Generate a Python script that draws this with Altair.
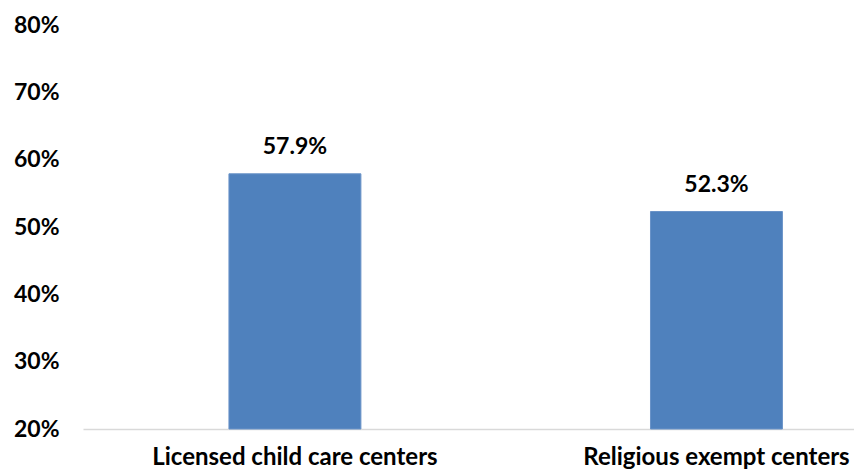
import altair as alt
import pandas as pd

categories = ["Licensed child care centers", "Religious exempt centers"]
values = [0.579, 0.523]
labels = ["57.9%", "52.3%"]
y_ticks = [0.2, 0.3, 0.4, 0.5, 0.6, 0.7, 0.8]

df = pd.DataFrame({"category": categories, "value": values, "label": labels})

FONT = "Lato"

x = alt.X(
    "category:N",
    sort=categories,
    title=None,
    scale=alt.Scale(paddingInner=0.687, paddingOuter=0.258, align=0.671),
    axis=alt.Axis(
        labelAngle=0,
        labelFont=FONT,
        labelFontSize=24,
        labelFontWeight="bold",
        labelColor="#000000",
        labelPadding=16,
        labelLimit=0,
        ticks=False,
        domainColor="#d9d9d9",
        domainWidth=1.5,
        grid=False,
    ),
)

y = alt.Y(
    "value:Q",
    title=None,
    scale=alt.Scale(domain=[0.2, 0.8], zero=False, nice=False),
    axis=alt.Axis(
        values=y_ticks,
        format=".0%",
        labelFont=FONT,
        labelFontSize=23,
        labelFontWeight="bold",
        labelColor="#000000",
        labelPadding=24,
        ticks=False,
        domain=False,
        grid=False,
    ),
)

bars = alt.Chart(df).mark_bar(color="#4f81bd", stroke="#6a93c8", strokeWidth=1).encode(
    x=x, y=y, y2=alt.datum(0.2)
)

text = alt.Chart(df).mark_text(
    font=FONT, fontSize=23, fontWeight="bold", color="#000000",
    baseline="alphabetic", dy=-20,
).encode(
    x=alt.X("category:N", sort=categories),
    y=alt.Y("value:Q"),
    text="label:N",
)

chart = (
    alt.layer(bars, text)
    .properties(
        width=771,
        height=404,
        background="white",
        autosize=alt.AutoSizeParams(type="none"),
        padding={"left": 75, "top": 17, "right": 0, "bottom": 44},
    )
    .configure_view(strokeWidth=0, stroke=None)
)

chart.save("out.html", embed_options={"renderer": "svg", "actions": False})
